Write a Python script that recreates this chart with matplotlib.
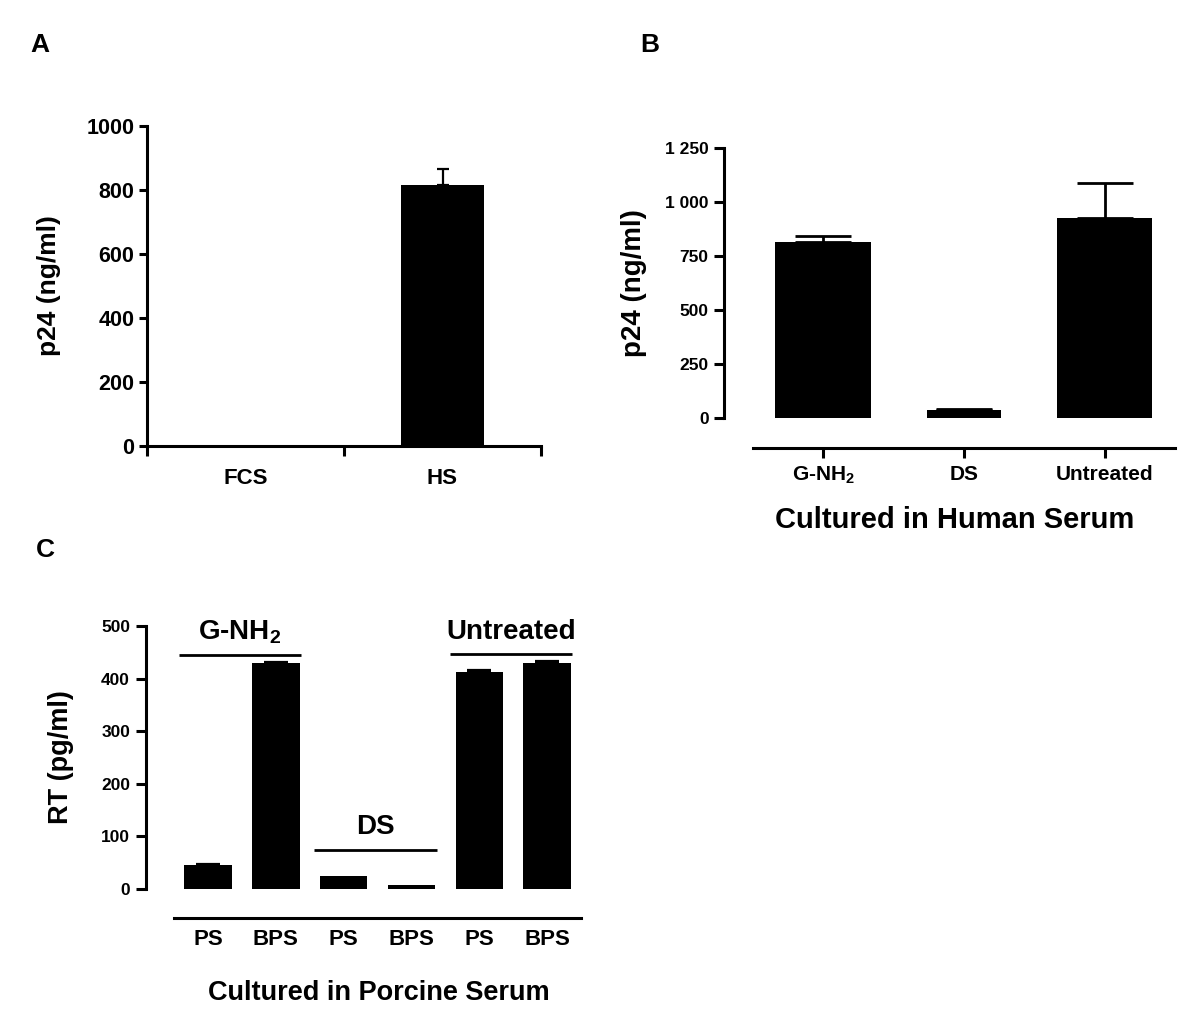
import matplotlib
matplotlib.use("Agg")
import matplotlib.pyplot as plt
import numpy as np

plt.rcParams['font.family'] = ['Liberation Sans', 'DejaVu Sans']
plt.rcParams['font.weight'] = 'bold'
plt.rcParams['mathtext.fontset'] = 'custom'
plt.rcParams['mathtext.rm'] = 'Liberation Sans:bold'
plt.rcParams['mathtext.bf'] = 'Liberation Sans:bold'
plt.rcParams['mathtext.default'] = 'bf'

# panel A
a_labels = ['FCS', 'HS']
a_vals = [0, 815]
a_err = [0, 52]

# panel B
b_labels = ['G-NH$_2$', 'DS', 'Untreated']
b_vals = [816, 35, 924]
b_err = [27, 8, 162]
b_widths = [0.68, 0.53, 0.68]

# panel C
c_labels = ['PS', 'BPS', 'PS', 'BPS', 'PS', 'BPS']
c_vals = [46, 429, 25, 8, 412, 429]
c_err = [1, 2, 0, 0, 4, 5]
c_groups = ['G-NH$_2$', 'DS', 'Untreated']
c_group_line = [445, 74, 446]

W, H = 1200, 1025
fig = plt.figure(figsize=(12, 10.25), dpi=100)


def px_axes(left, top, right, bottom):
    return fig.add_axes([left / W, 1 - bottom / H, (right - left) / W, (bottom - top) / H])


def style(ax):
    for s in ['top', 'right']:
        ax.spines[s].set_visible(False)
    for s in ['left', 'bottom']:
        ax.spines[s].set_linewidth(2.2)


def upper_err(ax, x, vals, err, lw, cap):
    # only draw caps where there is an error to show
    x = np.asarray(x)
    vals = np.asarray(vals)
    err = np.asarray(err)
    m = err > 0
    ax.errorbar(x[m], vals[m], yerr=[np.zeros(m.sum()), err[m]], fmt='none',
                ecolor='black', elinewidth=lw, capsize=cap, capthick=lw)


# ---- A
ax = px_axes(147, 126, 541, 446)
style(ax)
x = np.arange(len(a_vals))
ax.bar(x, a_vals, width=0.42, color='black')
upper_err(ax, x, a_vals, a_err, 1.6, 4)
ax.set_xlim(-0.5, 1.5)
ax.set_ylim(0, 1000)
ax.set_yticks(range(0, 1001, 200))
ax.set_xticks([-0.5, 0.5, 1.5])
ax.set_xticklabels([])
ax.set_xticks(x, minor=True)
ax.set_xticklabels(a_labels, minor=True)
ax.tick_params(axis='x', which='major', direction='out', length=7, width=2.2)
ax.tick_params(axis='x', which='minor', length=0, pad=16, labelsize=16)
ax.tick_params(axis='y', direction='out', length=6, width=2.2, pad=3, labelsize=15.5)
ax.set_ylabel('p24 (ng/ml)', fontsize=19, fontweight='bold', va='center')
ax.yaxis.set_label_coords((49 - 147) / 394, 0.5)

# ---- B
ax = px_axes(724, 148, 1175, 418)
style(ax)
x = np.arange(len(b_vals))
ax.bar(x, b_vals, width=b_widths, color='black')
upper_err(ax, x, b_vals, b_err, 2, 20)
ax.set_xlim(-0.706, 2.5)
ax.set_ylim(0, 1250)
ax.spines['bottom'].set_position(('outward', 21.6))
ax.spines['bottom'].set_bounds(-0.5, 2.5)
ax.set_xticks(x)
ax.set_xticklabels(b_labels)
ax.set_yticks(range(0, 1251, 250))
ax.set_yticklabels(['0', '250', '500', '750', '1 000', '1 250'])
ax.tick_params(axis='x', direction='out', length=7, width=2.2, pad=5, labelsize=15)
ax.tick_params(axis='y', direction='out', length=7, width=2.2, pad=4, labelsize=12.5)
ax.set_ylabel('p24 (ng/ml)', fontsize=20, fontweight='bold', va='center')
ax.yaxis.set_label_coords((634 - 724) / 451, 0.5)
ax.set_xlabel('Cultured in Human Serum', fontsize=21, fontweight='bold', va='center')
ax.xaxis.set_label_coords((955 - 724) / 451, (418 - 520) / 270)

# ---- C
ax = px_axes(146, 626, 581, 889)
style(ax)
x = np.arange(len(c_vals))
ax.bar(x, c_vals, width=0.70, color='black')
upper_err(ax, x, c_vals, c_err, 1.6, 8.5)
ax.set_xlim(-0.913, 5.5)
ax.set_ylim(0, 500)
ax.spines['bottom'].set_position(('outward', 21))
ax.spines['bottom'].set_bounds(-0.5, 5.5)
ax.set_xticks(x)
ax.set_xticklabels(c_labels)
ax.set_yticks(range(0, 501, 100))
ax.tick_params(axis='x', length=0, pad=8, labelsize=16)
ax.tick_params(axis='y', direction='out', length=7.5, width=2.2, pad=4, labelsize=12.5)
ax.set_ylabel('RT (pg/ml)', fontsize=19.5, fontweight='bold', va='center')
ax.yaxis.set_label_coords((61 - 146) / 435, 0.5)
ax.set_xlabel('Cultured in Porcine Serum', fontsize=19.5, fontweight='bold', va='center')
ax.xaxis.set_label_coords((379 - 146) / 435, (889 - 993) / 263)

for g, name in enumerate(c_groups):
    x0, x1 = 2 * g - 0.43, 2 * g + 1.37
    yl = c_group_line[g]
    ax.plot([x0, x1], [yl, yl], color='black', lw=2, clip_on=False,
            solid_capstyle='butt')
    ax.text((x0 + x1) / 2, yl + 43, name, ha='center', va='center',
            fontsize=20, fontweight='bold', clip_on=False)

# panel letters
for letter, (px, py) in zip(['A', 'B', 'C'], [(40, 45), (650, 45), (45, 550)]):
    fig.text(px / W, 1 - py / H, letter, ha='center', va='center',
             fontsize=19, fontweight='bold')

fig.savefig('out.png', dpi=100)
